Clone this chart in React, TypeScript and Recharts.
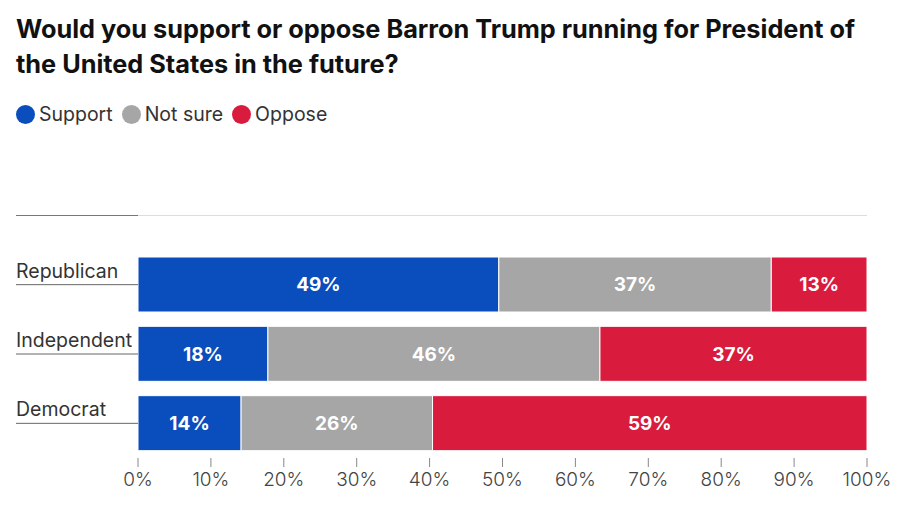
import { BarChart, Bar, XAxis, YAxis, LabelList } from 'recharts';

const parties = ['Republican', 'Independent', 'Democrat'];
const support = [49, 18, 14];
const notSure = [37, 46, 26];
const oppose = [13, 37, 59];
const xTicks = [0, 0.1, 0.2, 0.3, 0.4, 0.5, 0.6, 0.7, 0.8, 0.9, 1];

const series = [
    { key: 'support', name: 'Support', color: '#0a4dbd' },
    { key: 'notSure', name: 'Not sure', color: '#a6a6a6' },
    { key: 'oppose', name: 'Oppose', color: '#d91b3d' },
];

const data = parties.map((party, i) => ({
    party,
    support: support[i],
    notSure: notSure[i],
    oppose: oppose[i],
}));

const FONT = 'Inter, "Noto Sans", sans-serif';

function PartyTick({ x, y, payload }: any) {
    return (
        <g>
            <text x={x - 122} y={y - 7} fill="#333" fontSize={19.5} fontFamily={FONT}>
                {payload.value}
            </text>
            <line x1={x - 122} x2={x} y1={y} y2={y} stroke="#666" strokeWidth={1} />
        </g>
    );
}

export default function App() {
    return (
        <div style={{ position: 'absolute', left: 0, top: 0, width: 900, height: 505, background: '#fff', fontFamily: FONT }}>
            <div style={{ position: 'absolute', left: 16, top: 11, width: 862, fontSize: 25.3, fontWeight: 700, lineHeight: '35px', color: '#111' }}>
                Would you support or oppose Barron Trump running for President of the United States in the future?
            </div>
            <div style={{ position: 'absolute', left: 16, top: 102, display: 'flex', alignItems: 'center', fontSize: 19.5, color: '#333' }}>
                {series.map((s) => (
                    <div key={s.key} style={{ display: 'flex', alignItems: 'center', marginRight: 9 }}>
                        <span style={{ width: 19, height: 19, borderRadius: '50%', background: s.color, display: 'inline-block', marginRight: 4 }} />
                        {s.name}
                    </div>
                ))}
            </div>
            <div style={{ position: 'absolute', left: 16, top: 215, width: 122, height: 1, background: '#777' }} />
            <div style={{ position: 'absolute', left: 138, top: 215, width: 729, height: 1, background: '#ddd' }} />
            <div style={{ position: 'absolute', left: 0, top: 0 }}>
                <BarChart
                    width={900}
                    height={505}
                    data={data}
                    layout="vertical"
                    stackOffset="expand"
                    barSize={55}
                    margin={{ top: 250, right: 33, left: 16, bottom: 17 }}
                >
                    <XAxis
                        type="number"
                        domain={[0, 1]}
                        ticks={xTicks}
                        tickFormatter={(v: number) => `${Math.round(v * 100)}%`}
                        axisLine={false}
                        tickLine={{ stroke: '#888' }}
                        tickSize={9}
                        tickMargin={6}
                        height={30}
                        tick={{ fill: '#444', fontSize: 19, fontFamily: FONT, fontWeight: 300 }}
                        interval={0}
                    />
                    <YAxis
                        type="category"
                        dataKey="party"
                        width={122}
                        axisLine={false}
                        tickLine={false}
                        tickSize={0}
                        tickMargin={0}
                        tick={<PartyTick />}
                    />
                    {series.map((s) => (
                        <Bar
                            key={s.key}
                            dataKey={s.key}
                            name={s.name}
                            stackId="a"
                            fill={s.color}
                            stroke="#fff"
                            strokeWidth={1}
                            isAnimationActive={false}
                        >
                            <LabelList
                                dataKey={s.key}
                                position="center"
                                formatter={(v: any) => `${v}%`}
                                fill="#fff"
                                fontSize={19}
                                fontWeight={700}
                                fontFamily={FONT}
                            />
                        </Bar>
                    ))}
                </BarChart>
            </div>
        </div>
    );
}
